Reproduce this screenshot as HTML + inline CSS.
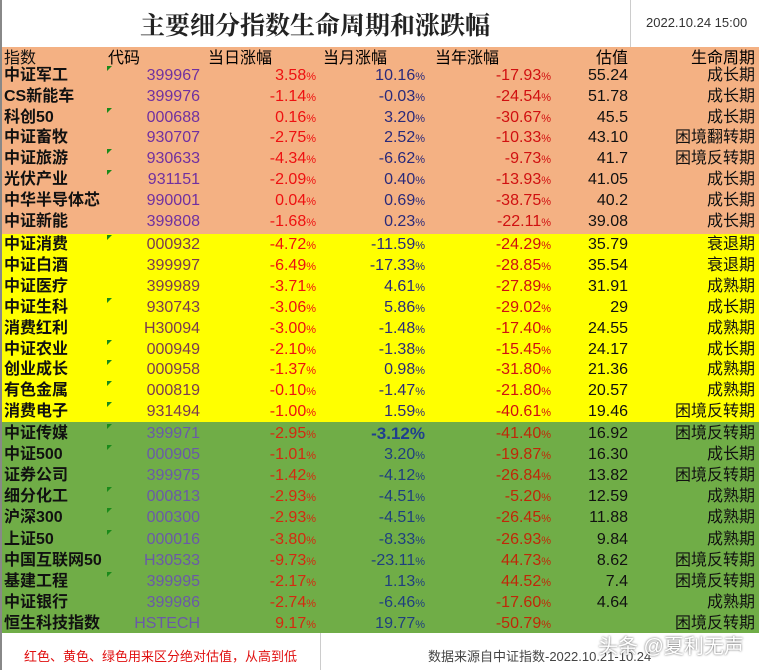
<!DOCTYPE html>
<html><head><meta charset="utf-8"><style>
*{margin:0;padding:0;box-sizing:border-box}
body{width:759px;height:670px;background:#fff;position:relative;overflow:hidden;font-family:"Liberation Sans","Noto Sans CJK SC",sans-serif}
.band{position:absolute;left:2px;width:757px}
.r{position:absolute;left:0;width:759px;font-size:16px;line-height:20px}
.r div{position:absolute;top:0;white-space:nowrap}
.n{left:4px;color:#111;font-weight:bold}
.c{right:559px;color:#7030a0}
.d{right:443px;color:#ee1111}
.m{right:334px;color:#2a2a7a}
.y{right:208px;color:#d01010}
.v{right:131px;color:#111}
.p{right:4px;color:#111;font-size:16px}
.r small{font-size:11px}
.t{position:absolute;left:107px;width:0;height:0;border-top:5px solid #1a8a1a;border-right:5px solid transparent}
</style></head><body>
<div style="position:absolute;left:0;top:0;width:2px;height:670px;background:#888"></div>
<div style="position:absolute;left:0;top:6px;width:630px;text-align:center;font-family:'Liberation Serif','Noto Serif CJK SC',serif;font-size:25px;font-weight:bold;color:#222">主要细分指数生命周期和涨跌幅</div>
<div style="position:absolute;left:630px;top:0;width:1px;height:47px;background:#ccc"></div>
<div style="position:absolute;left:646px;top:15px;font-size:13px;color:#333">2022.10.24 15:00</div>
<div class="band" style="top:47px;height:187px;background:#f4b183"></div>
<div class="band" style="top:234px;height:188px;background:#ffff00"></div>
<div class="band" style="top:422px;height:211px;background:#70ad47"></div>
<div class="r" style="top:49px;font-size:16px"><div class="n" style="font-weight:normal">指数</div><div style="left:108px">代码</div><div style="left:208px">当日涨幅</div><div style="left:323px">当月涨幅</div><div style="left:435px">当年涨幅</div><div style="right:131px">估值</div><div style="right:4px">生命周期</div></div>
<div id="rows"></div>
<div style="position:absolute;left:2px;top:633px;width:757px;height:37px;background:#fff"></div>
<div style="position:absolute;left:320px;top:633px;width:1px;height:37px;background:#ccc"></div>
<div style="position:absolute;left:24px;top:646px;font-size:13px;color:#e01010">红色、黄色、绿色用来区分绝对估值，从高到低</div>
<div style="position:absolute;left:428px;top:646px;font-size:13px;color:#444">数据来源自中证指数-2022.10.21-10.24</div>
<div style="position:absolute;left:598px;top:630px;font-size:20px;color:#fff;text-shadow:0 0 2px #555">头条 @夏利无声</div>
<script>
var R=[
["中证军工","399967","3.58","10.16","-17.93","55.24","成长期",1],
["CS新能车","399976","-1.14","-0.03","-24.54","51.78","成长期",0],
["科创50","000688","0.16","3.20","-30.67","45.5","成长期",1],
["中证畜牧","930707","-2.75","2.52","-10.33","43.10","困境翻转期",0],
["中证旅游","930633","-4.34","-6.62","-9.73","41.7","困境反转期",1],
["光伏产业","931151","-2.09","0.40","-13.93","41.05","成长期",1],
["中华半导体芯片","990001","0.04","0.69","-38.75","40.2","成长期",0],
["中证新能","399808","-1.68","0.23","-22.11","39.08","成长期",0],
["中证消费","000932","-4.72","-11.59","-24.29","35.79","衰退期",1],
["中证白酒","399997","-6.49","-17.33","-28.85","35.54","衰退期",0],
["中证医疗","399989","-3.71","4.61","-27.89","31.91","成熟期",0],
["中证生科","930743","-3.06","5.86","-29.02","29","成长期",1],
["消费红利","H30094","-3.00","-1.48","-17.40","24.55","成熟期",0],
["中证农业","000949","-2.10","-1.38","-15.45","24.17","成长期",1],
["创业成长","000958","-1.37","0.98","-31.80","21.36","成熟期",1],
["有色金属","000819","-0.10","-1.47","-21.80","20.57","成熟期",1],
["消费电子","931494","-1.00","1.59","-40.61","19.46","困境反转期",1],
["中证传媒","399971","-2.95","-3.12","-41.40","16.92","困境反转期",1],
["中证500","000905","-1.01","3.20","-19.87","16.30","成长期",1],
["证券公司","399975","-1.42","-4.12","-26.84","13.82","困境反转期",0],
["细分化工","000813","-2.93","-4.51","-5.20","12.59","成熟期",1],
["沪深300","000300","-2.93","-4.51","-26.45","11.88","成熟期",1],
["上证50","000016","-3.80","-8.33","-26.93","9.84","成熟期",1],
["中国互联网50","H30533","-9.73","-23.11","44.73","8.62","困境反转期",0],
["基建工程","399995","-2.17","1.13","44.52","7.4","困境反转期",1],
["中证银行","399986","-2.74","-6.46","-17.60","4.64","成熟期",0],
["恒生科技指数","HSTECH","9.17","19.77","-50.79","","困境反转期",0]];
var h="";
R.forEach(function(a,i){
 var top,g=i>=17,yl=i>=8&&i<17;
 if(i<8)top=66+i*20.8;else if(i<17)top=235+(i-8)*20.9;else top=424+(i-17)*21.1;
 var cc=g?"#6a5aa8":(yl?"#7a3b50":"#7030a0");
 var mc=g?"#1f3f7f":"#2a2a7a", dc=g?"#d42a10":"#ee1111", yc=g?"#c02808":"#d01010";
 var nm=a[0]; if(i==6)nm="中华半导体芯";
 var mm=(i===17)?'<div class="m" style="color:#1f3f8f;font-weight:bold;font-size:17px">-3.12%</div>':'<div class="m" style="color:'+mc+'">'+a[3]+'<small>%</small></div>';
 h+='<div class="r" style="top:'+top+'px"><div class="n" style="max-width:104px;overflow:hidden">'+nm+'</div>'+(a[7]?'<span class="t" style="top:0"></span>':'')+
 '<div class="c" style="color:'+cc+'">'+a[1]+'</div><div class="d" style="color:'+dc+'">'+a[2]+'<small>%</small></div>'+mm+
 '<div class="y" style="color:'+yc+'">'+a[4]+'<small>%</small></div><div class="v">'+a[5]+'</div><div class="p">'+a[6]+'</div></div>';
});
document.getElementById("rows").innerHTML=h;
</script>
</body></html>
